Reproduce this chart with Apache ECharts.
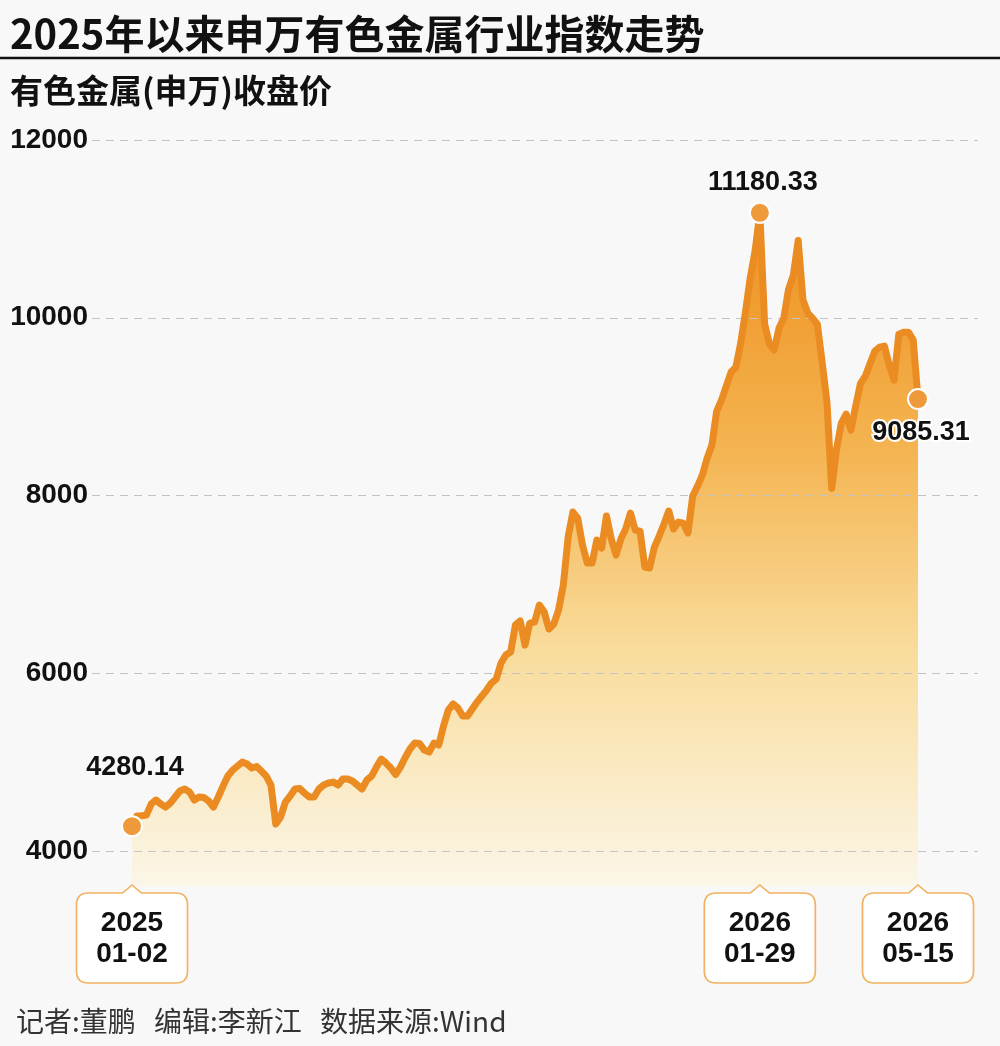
<!DOCTYPE html>
<html><head><meta charset="utf-8">
<script src="https://cdn.jsdelivr.net/npm/echarts@6/dist/echarts.min.js"></script>
<style>html,body{margin:0;padding:0;background:#f8f8f8}#c{width:1000px;height:1046px}</style>
</head><body><div id="c"></div>
<script>
const titleText = '2025年以来申万有色金属行业指数走势';
const subtitleText = '有色金属(申万)收盘价';
const footerParts = ['记者:董鹏', '编辑:李新江', '数据来源:Wind'];
const yTicks = [4000, 6000, 8000, 10000, 12000];
// closing values, sampled roughly every two trading days, 2025-01-02 .. 2026-05-15
const values = [
  4280.14, 4394, 4398, 4405, 4529, 4574, 4529, 4495, 4540, 4608,
  4675, 4698, 4664, 4574, 4608, 4602, 4563, 4495, 4608, 4731,
  4844, 4911, 4956, 5001, 4979, 4934, 4951, 4900, 4844, 4742,
  4304, 4383, 4551, 4619, 4698, 4703, 4652, 4608, 4608, 4698,
  4743, 4765, 4776, 4743, 4810, 4810, 4788, 4743, 4698, 4799,
  4844, 4945, 5035, 4990, 4934, 4861, 4945, 5052, 5148, 5215,
  5209, 5136, 5114, 5215, 5193, 5406, 5586, 5654, 5609, 5519,
  5519, 5598, 5676, 5744, 5811, 5890, 5935, 6115, 6205, 6239,
  6543, 6588, 6318, 6565, 6576, 6768, 6689, 6498, 6554, 6711,
  6993, 7533, 7814, 7746, 7443, 7240, 7240, 7499, 7409, 7769,
  7510, 7330, 7510, 7623, 7803, 7611, 7600, 7195, 7184, 7420,
  7544, 7679, 7825, 7623, 7701, 7690, 7578, 7994, 8106, 8230,
  8421, 8568, 8950, 9074, 9231, 9389, 9444, 9714, 10064, 10450,
  10750, 11180.33, 9928, 9703, 9636, 9883, 9996, 10323, 10480, 10870,
  10199, 10053, 9996, 9929, 9501, 9051, 8080, 8520, 8815, 8916,
  8736, 9006, 9261, 9343, 9486, 9625, 9670, 9681, 9467, 9299,
  9816, 9838, 9838, 9749, 9085.31
];
const categories = values.map((v, i) => String(i));
const callouts = [
  { idx: 0, date: '2025\n01-02', label: '4280.14', off: [3, -59] },
  { idx: 131, date: '2026\n01-29', label: '11180.33', off: [3, -30] },
  { idx: 164, date: '2026\n05-15', label: '9085.31', off: [3, 33] }
];

const numFont = '"Liberation Sans", Arial, sans-serif';
const cjkFont = '"Noto Sans CJK SC", "Noto Sans", sans-serif';
const orange = '#EB8C22';
const boxPath = 'path://M12 8 L46 8 L55.5 0 L65 8 L99 8 Q111 8 111 20 L111 86 Q111 98 99 98 L12 98 Q0 98 0 86 L0 20 Q0 8 12 8 Z';

const chart = echarts.init(document.getElementById('c'), null, { renderer: 'canvas' });

const dotPoints = callouts.map(c => ({
  coord: [c.idx, values[c.idx]],
  symbol: 'circle', symbolSize: 20,
  itemStyle: { color: '#EE9A3A', borderColor: '#ffffff', borderWidth: 2 },
  label: {
    show: true, formatter: c.label, position: 'inside', offset: c.off,
    color: '#111', fontSize: 27, fontWeight: 'bold', fontFamily: numFont,
    textBorderColor: c.idx === values.length - 1 ? '#fff' : 'transparent',
    textBorderWidth: c.idx === values.length - 1 ? 4 : 0
  }
}));
const boxPoints = callouts.map(c => ({
  coord: [c.idx, 3600],
  symbol: boxPath, symbolSize: [111, 98], symbolOffset: [0, 47.4],
  itemStyle: { color: '#ffffff', borderColor: '#F2B262', borderWidth: 1.6 },
  label: {
    show: true, formatter: c.date, position: 'inside', offset: [0, 5],
    color: '#111', fontSize: 28, lineHeight: 31, fontWeight: 'bold', fontFamily: numFont
  }
}));

chart.setOption({
  backgroundColor: '#f8f8f8',
  animation: false,
  grid: [
    { left: 92, right: 22, top: 140, bottom: 195 },
    { left: 132, right: 82, top: 140, bottom: 159.4 }
  ],
  xAxis: [
    { gridIndex: 0, type: 'value', min: 0, max: 1, show: false },
    { gridIndex: 1, type: 'category', data: categories, boundaryGap: false, show: false }
  ],
  yAxis: [
    {
      gridIndex: 0, type: 'value', min: yTicks[0], max: yTicks[yTicks.length - 1], interval: 2000, z: 2,
      axisLine: { show: false }, axisTick: { show: false },
      axisLabel: { margin: 4, color: '#111', fontSize: 28, fontWeight: 'bold', fontFamily: numFont,
        formatter: v => String(v) },
      splitLine: { show: true, lineStyle: { color: '#c4c4c4', width: 1.2, type: [8, 6] } }
    },
    { gridIndex: 1, type: 'value', min: 3600, max: 12000, show: false, splitLine: { show: false } }
  ],
  series: [
    {
      type: 'line', xAxisIndex: 1, yAxisIndex: 1, data: values, z: 1,
      showSymbol: false, lineStyle: { width: 0 },
      areaStyle: {
        color: new echarts.graphic.LinearGradient(0, 0, 0, 1, [
          { offset: 0, color: '#EE8F1E' },
          { offset: 0.35, color: '#F4B451' },
          { offset: 0.65, color: '#F9DC9C' },
          { offset: 1, color: '#FBF6E8' }
        ]),
        opacity: 1
      }
    },
    {
      type: 'line', xAxisIndex: 1, yAxisIndex: 1, data: values, z: 3,
      showSymbol: false,
      lineStyle: { color: orange, width: 7, join: 'round', cap: 'round' },
      markPoint: { silent: true, data: dotPoints.concat(boxPoints) }
    }
  ],
  graphic: [
    { type: 'text', style: { x: 10, y: 34, text: titleText, fill: '#111', font: 'bold 40px ' + cjkFont, verticalAlign: 'middle' } },
    { type: 'line', shape: { x1: 0, y1: 58, x2: 1000, y2: 58 }, style: { stroke: '#111', lineWidth: 2.5 } },
    { type: 'text', style: { x: 10, y: 90, text: subtitleText, fill: '#111', font: 'bold 33px ' + cjkFont, verticalAlign: 'middle' } },
    { type: 'text', style: { x: 16, y: 1021, text: footerParts[0], fill: '#333', font: '28px ' + cjkFont, verticalAlign: 'middle' } },
    { type: 'text', style: { x: 154, y: 1021, text: footerParts[1], fill: '#333', font: '28px ' + cjkFont, verticalAlign: 'middle' } },
    { type: 'text', style: { x: 320, y: 1021, text: footerParts[2], fill: '#333', font: '28px ' + cjkFont, verticalAlign: 'middle' } }
  ]
});
</script>
</body></html>
